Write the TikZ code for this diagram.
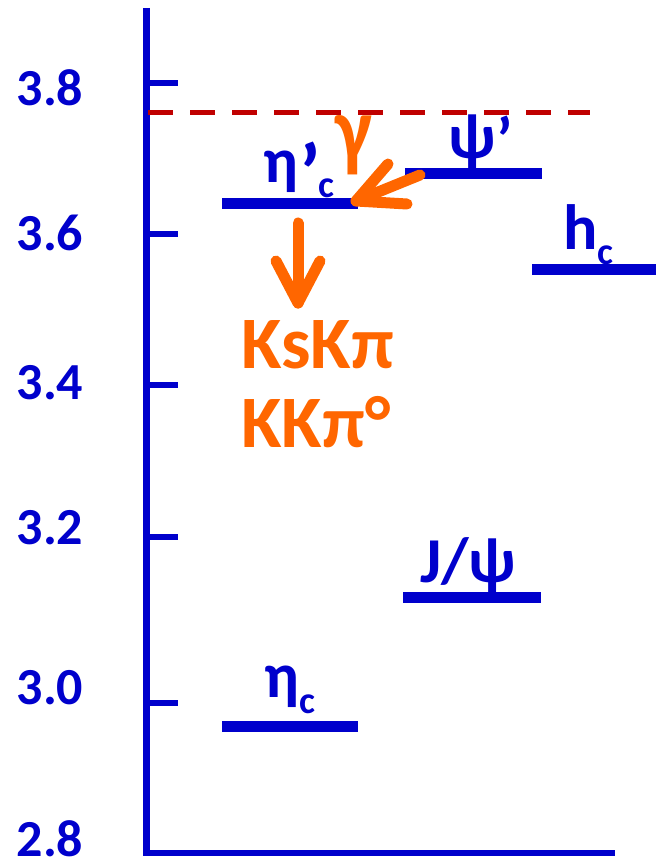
\documentclass[tikz,border=0pt]{standalone}
\usepackage{fontspec}
\setmainfont{Carlito}
\definecolor{lvlblue}{RGB}{0,0,204}
\definecolor{decorange}{RGB}{255,102,0}
\definecolor{thrred}{RGB}{192,0,0}
\newcommand{\bigprime}{\raisebox{-20pt}{\scalebox{1.3}{’}}}
\newcommand{\smallprime}{\raisebox{-4pt}{’}}
\begin{document}
\begin{tikzpicture}[x=1pt,y=-1pt,
  axisline/.style={draw=lvlblue,line width=6.5pt},
  tickline/.style={draw=lvlblue,line width=6pt},
  level/.style={draw=lvlblue,line width=11pt},
  thresh/.style={draw=thrred,line width=5pt,dash pattern=on 25pt off 17pt},
  decay/.style={draw=decorange,line width=11pt,line cap=round,line join=round},
  ticklabel/.style={text=lvlblue,font=\bfseries\fontsize{52}{52}\selectfont,inner sep=0pt},
  lvllabel/.style={text=lvlblue,font=\bfseries\fontsize{64}{64}\selectfont,inner sep=0pt,anchor=base west},
  chan/.style={text=decorange,font=\bfseries\fontsize{74}{74}\selectfont,inner sep=0pt,anchor=base west}
]
\useasboundingbox (0,0) rectangle (656,858);
% axes
\coordinate (atop) at (146.5,8);
\coordinate (aorig) at (146.5,856);
\coordinate (aright) at (615,853);
\draw[axisline] (atop) -- (aorig);
\draw[axisline] (146,853) -- (aright);
% ticks
\foreach \yy/\nm in {83/t38,234/t36,385/t34,537/t32,703/t30}{
  \coordinate (\nm a) at (146,\yy);
  \coordinate (\nm b) at (178,\yy);
  \draw[tickline] (\nm a) -- (\nm b);
}
\node[ticklabel] (l38) at (50,88) {3.8};
\node[ticklabel] (l36) at (50,233) {3.6};
\node[ticklabel] (l34) at (50,383) {3.4};
\node[ticklabel] (l32) at (50,528) {3.2};
\node[ticklabel] (l30) at (50,688) {3.0};
\node[ticklabel] (l28) at (50,839) {2.8};
% threshold
\coordinate (thL) at (148,113);
\coordinate (thR) at (590,113);
\draw[thresh] (thL) -- (thR);
% levels
\coordinate (etapL) at (222,204); \coordinate (etapR) at (358,204);
\coordinate (psipL) at (405,174); \coordinate (psipR) at (542,174);
\coordinate (hcL) at (532,270); \coordinate (hcR) at (656,270);
\coordinate (jpsiL) at (403,597); \coordinate (jpsiR) at (541,597);
\coordinate (etacL) at (222,726); \coordinate (etacR) at (358,726);
\draw[level] (etapL) -- (etapR);
\draw[level] (psipL) -- (psipR);
\draw[level] (hcL) -- (hcR);
\draw[level] (jpsiL) -- (jpsiR);
\draw[level] (etacL) -- (etacR);
% level labels
\node[lvllabel] (netap) at (263,183) {η\kern1pt\bigprime\kern-2pt\raisebox{-15pt}{\fontsize{38}{38}\selectfont c}};
\node[lvllabel] (npsip) at (448,159) {ψ\kern1pt\smallprime};
\node[lvllabel] (nhc) at (563,250) {h\raisebox{-15pt}{\fontsize{38}{38}\selectfont c}};
\node[lvllabel] (njpsi) at (420,582) {J/ψ};
\node[lvllabel] (netac) at (264,697) {η\raisebox{-16pt}{\fontsize{38}{38}\selectfont c}};
% radiative transition
\coordinate (gstart) at (420,175);
\coordinate (gtip) at (356,201);
\draw[decay] (gstart) -- (gtip);
\draw[decay] (388,164) -- (gtip) -- (407,204);
\node[chan,font=\bfseries\fontsize{92}{92}\selectfont] (gam) at (335,161) {\scalebox{0.85}[1]{γ}};
% hadronic decay
\coordinate (dstart) at (298,223);
\coordinate (dtip) at (298,303);
\draw[decay] (dstart) -- (dtip);
\draw[decay] (276,261) -- (dtip) -- (320,261);
\node[chan] (ch1) at (241,368) {KsKπ};
\node[chan] (ch2) at (241,447) {KKπ°};
\end{tikzpicture}
\end{document}
